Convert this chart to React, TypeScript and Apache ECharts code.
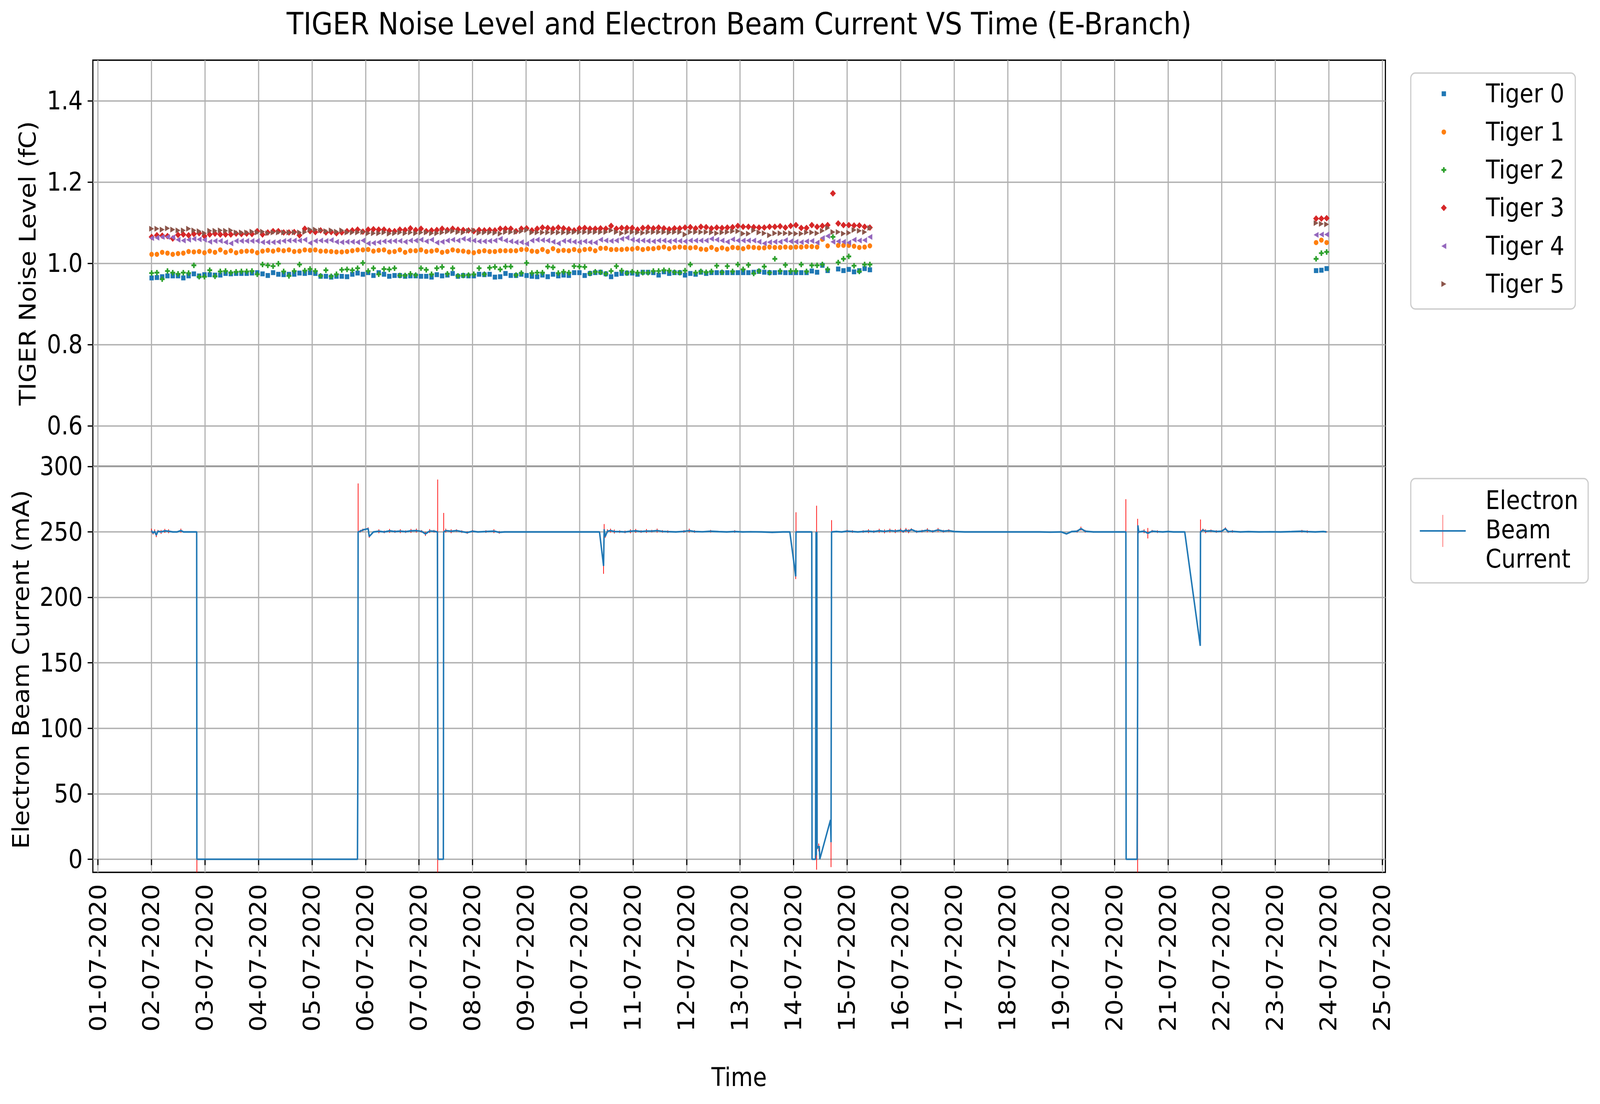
import React, { useEffect, useRef } from "react";
import * as echarts from "echarts";

const FONT = '"DejaVu Sans", "Liberation Sans", sans-serif';
const DAY_MS = 86400000;
const JULY_1 = Date.UTC(2020, 6, 1);
const DESIGN_W = 4600;
const DESIGN_H = 2826;

// ---- axis ticks ----
const dateTickLabels = [
  "01-07-2020", "02-07-2020", "03-07-2020", "04-07-2020", "05-07-2020",
  "06-07-2020", "07-07-2020", "08-07-2020", "09-07-2020", "10-07-2020",
  "11-07-2020", "12-07-2020", "13-07-2020", "14-07-2020", "15-07-2020",
  "16-07-2020", "17-07-2020", "18-07-2020", "19-07-2020", "20-07-2020",
  "21-07-2020", "22-07-2020", "23-07-2020", "24-07-2020", "25-07-2020",
];
const noiseTickValues = [0.6, 0.8, 1.0, 1.2, 1.4];
const noiseTickLabels = ["0.6", "0.8", "1.0", "1.2", "1.4"];
const currentTickValues = [0, 50, 100, 150, 200, 250, 300];

// ---- noise series (fC), sampled every ~2.37 h from 02-07 00:04 ----
const tigerNames = ["Tiger 0", "Tiger 1", "Tiger 2", "Tiger 3", "Tiger 4", "Tiger 5"];
const tigerColors = ["#1f77b4", "#ff7f0e", "#2ca02c", "#d62728", "#9467bd", "#8c564b"];
const mainStartDay = 1.003;
const lateStartDay = 22.765;
const sampleStepDay = 0.0987;

const tiger0Main = [
  0.964, 0.965, 0.967, 0.969, 0.969, 0.969, 0.964, 0.969, 0.974, 0.969,
  0.972, 0.972, 0.971, 0.971, 0.975, 0.974, 0.975, 0.975, 0.975, 0.976,
  0.977, 0.974, 0.970, 0.977, 0.973, 0.972, 0.973, 0.973, 0.976, 0.975,
  0.977, 0.975, 0.968, 0.968, 0.966, 0.968, 0.968, 0.967, 0.973, 0.976,
  0.973, 0.977, 0.970, 0.977, 0.973,
  0.968, 0.970, 0.970, 0.968, 0.969, 0.969, 0.968, 0.968, 0.966, 0.972,
  0.969, 0.971, 0.975, 0.968, 0.970, 0.969, 0.969, 0.973, 0.972, 0.973,
  0.966, 0.967, 0.975, 0.970, 0.970, 0.973, 0.970, 0.968, 0.967, 0.971,
  0.967, 0.973, 0.969, 0.971, 0.970, 0.977, 0.977, 0.970, 0.975, 0.977,
  0.978, 0.974, 0.967, 0.973, 0.975, 0.976,
  0.976, 0.973, 0.978, 0.978, 0.977, 0.971, 0.979, 0.975, 0.977, 0.977,
  0.971, 0.975, 0.973, 0.978, 0.975, 0.977, 0.977, 0.977, 0.977, 0.977,
  0.977, 0.977, 0.977, 0.978, 0.980, 0.978, 0.977, 0.977, 0.978, 0.977,
  0.977, 0.977, 0.977, 0.977, 0.981, 0.978, 0.995, 0.982, null, 0.986,
  0.982, 0.985, 0.979, 0.982, 0.987, 0.984,
];
const tiger1Main = [
  1.022, 1.022, 1.027, 1.025, 1.022, 1.024, 1.025, 1.029, 1.028, 1.029,
  1.026, 1.030, 1.027, 1.033, 1.027, 1.031, 1.026, 1.029, 1.030, 1.030,
  1.026, 1.030, 1.032, 1.030, 1.033, 1.031, 1.033, 1.029, 1.030, 1.033,
  1.032, 1.033, 1.030, 1.030, 1.029, 1.028, 1.028, 1.029, 1.031, 1.033,
  1.033, 1.034, 1.030, 1.032, 1.033,
  1.028, 1.029, 1.033, 1.027, 1.031, 1.031, 1.033, 1.029, 1.030, 1.032,
  1.027, 1.029, 1.033, 1.031, 1.030, 1.028, 1.026, 1.029, 1.031, 1.029,
  1.029, 1.031, 1.031, 1.031, 1.031, 1.034, 1.034, 1.030, 1.029, 1.034,
  1.029, 1.036, 1.031, 1.032, 1.031, 1.034, 1.031, 1.034, 1.035, 1.031,
  1.037, 1.037, 1.034, 1.034, 1.034, 1.035,
  1.035, 1.037, 1.034, 1.036, 1.036, 1.038, 1.040, 1.036, 1.039, 1.040,
  1.039, 1.038, 1.039, 1.035, 1.034, 1.039, 1.034, 1.038, 1.035, 1.039,
  1.038, 1.036, 1.040, 1.039, 1.038, 1.038, 1.040, 1.039, 1.039, 1.040,
  1.039, 1.040, 1.040, 1.041, 1.041, 1.040, 1.059, 1.043, null, 1.044,
  1.044, 1.044, 1.042, 1.039, 1.040, 1.043,
];
const tiger2Main = [
  0.976, 0.977, 0.961, 0.981, 0.977, 0.974, 0.977, 0.976, 0.995, 0.967,
  0.967, 0.983, 0.968, 0.980, 0.981, 0.977, 0.979, 0.980, 0.980, 0.981,
  0.973, 0.997, 0.995, 0.993, 0.999, 0.980, 0.969, 0.981, 0.997, 0.982,
  0.986, 0.981, 0.969, 0.983, 0.968, 0.973, 0.984, 0.985, 0.983, 0.988,
  1.001, 0.981, 0.988, 0.973, 0.986,
  0.985, 0.988, 0.970, 0.970, 0.974, 0.971, 0.988, 0.984, 0.973, 0.988,
  0.991, 0.974, 0.988, 0.969, 0.970, 0.971, 0.973, 0.988, 0.973, 0.989,
  0.991, 0.985, 0.992, 0.992, 0.971, 0.976, 1.001, 0.976, 0.977, 0.977,
  0.992, 0.990, 0.976, 0.979, 0.977, 0.993, 0.992, 0.991, 0.975, 0.979,
  0.978, 0.974, 0.981, 0.993, 0.982, 0.976,
  0.979, 0.977, 0.977, 0.977, 0.981, 0.981, 0.983, 0.982, 0.978, 0.977,
  0.982, 0.997, 0.977, 0.980, 0.978, 0.980, 0.994, 0.978, 0.993, 0.980,
  0.997, 0.985, 0.996, 0.975, 0.981, 0.992, 0.977, 1.011, 0.981, 0.996,
  0.981, 0.981, 0.997, 0.980, 0.995, 0.995, 0.997, 0.985, 1.065, 1.002,
  1.011, 1.017, 0.994, 0.980, 0.997, 0.997,
];
const tiger3Main = [
  1.065, 1.069, 1.068, 1.067, 1.061, 1.070, 1.071, 1.069, 1.072, 1.074,
  1.067, 1.071, 1.073, 1.071, 1.071, 1.071, 1.073, 1.072, 1.073, 1.072,
  1.079, 1.071, 1.076, 1.079, 1.079, 1.076, 1.076, 1.077, 1.069, 1.085,
  1.079, 1.077, 1.081, 1.076, 1.077, 1.074, 1.076, 1.079, 1.081, 1.083,
  1.078, 1.083, 1.084, 1.083, 1.083,
  1.080, 1.079, 1.083, 1.082, 1.086, 1.082, 1.085, 1.079, 1.081, 1.082,
  1.085, 1.082, 1.085, 1.083, 1.082, 1.081, 1.079, 1.082, 1.081, 1.082,
  1.081, 1.085, 1.085, 1.085, 1.079, 1.085, 1.086, 1.081, 1.085, 1.088,
  1.087, 1.085, 1.088, 1.086, 1.084, 1.081, 1.086, 1.087, 1.085, 1.085,
  1.086, 1.085, 1.092, 1.085, 1.087, 1.087,
  1.087, 1.083, 1.087, 1.088, 1.086, 1.088, 1.086, 1.084, 1.086, 1.086,
  1.088, 1.089, 1.086, 1.090, 1.089, 1.086, 1.088, 1.087, 1.088, 1.089,
  1.092, 1.090, 1.090, 1.089, 1.088, 1.088, 1.090, 1.090, 1.091, 1.088,
  1.092, 1.094, 1.087, 1.087, 1.094, 1.090, 1.092, 1.094, 1.172, 1.098,
  1.094, 1.094, 1.093, 1.093, 1.090, 1.088,
];
const tiger4Main = [
  1.062, 1.063, 1.065, 1.065, 1.064, 1.058, 1.056, 1.058, 1.060, 1.059,
  1.058, 1.053, 1.055, 1.055, 1.052, 1.049, 1.055, 1.055, 1.055, 1.055,
  1.055, 1.052, 1.052, 1.052, 1.053, 1.055, 1.056, 1.056, 1.056, 1.058,
  1.050, 1.055, 1.056, 1.055, 1.057, 1.053, 1.052, 1.053, 1.053, 1.052,
  1.056, 1.049, 1.050, 1.052, 1.054,
  1.054, 1.055, 1.055, 1.053, 1.056, 1.056, 1.058, 1.054, 1.058, 1.051,
  1.053, 1.056, 1.058, 1.056, 1.060, 1.058, 1.056, 1.054, 1.054, 1.055,
  1.056, 1.060, 1.056, 1.054, 1.052, 1.052, 1.048, 1.056, 1.058, 1.057,
  1.056, 1.053, 1.049, 1.055, 1.055, 1.053, 1.052, 1.054, 1.052, 1.051,
  1.058, 1.056, 1.055, 1.056, 1.060, 1.063,
  1.058, 1.056, 1.056, 1.055, 1.054, 1.056, 1.056, 1.054, 1.056, 1.055,
  1.054, 1.056, 1.056, 1.056, 1.056, 1.060, 1.058, 1.056, 1.053, 1.059,
  1.056, 1.056, 1.056, 1.056, 1.053, 1.049, 1.052, 1.053, 1.053, 1.057,
  1.054, 1.053, 1.052, 1.054, 1.055, 1.051, 1.062, 1.067, 1.053, 1.054,
  1.053, 1.051, 1.058, 1.056, 1.057, 1.065,
];
const tiger5Main = [
  1.085, 1.085, 1.083, 1.086, 1.083, 1.081, 1.081, 1.085, 1.081, 1.079,
  1.074, 1.080, 1.080, 1.081, 1.080, 1.081, 1.076, 1.076, 1.076, 1.078,
  1.076, 1.078, 1.074, 1.076, 1.076, 1.076, 1.076, 1.076, 1.076, 1.077,
  1.083, 1.083, 1.081, 1.079, 1.081, 1.078, 1.081, 1.076, 1.076, 1.076,
  1.077, 1.074, 1.074, 1.074, 1.076,
  1.073, 1.074, 1.076, 1.074, 1.076, 1.074, 1.076, 1.076, 1.074, 1.074,
  1.076, 1.078, 1.079, 1.077, 1.076, 1.080, 1.081, 1.075, 1.076, 1.076,
  1.075, 1.073, 1.077, 1.077, 1.077, 1.079, 1.082, 1.076, 1.076, 1.076,
  1.076, 1.076, 1.076, 1.076, 1.076, 1.077, 1.077, 1.077, 1.077, 1.077,
  1.077, 1.077, 1.081, 1.077, 1.074, 1.077,
  1.077, 1.076, 1.075, 1.077, 1.077, 1.077, 1.077, 1.076, 1.077, 1.077,
  1.071, 1.077, 1.077, 1.077, 1.077, 1.076, 1.074, 1.076, 1.077, 1.079,
  1.079, 1.073, 1.073, 1.081, 1.076, 1.074, 1.069, 1.074, 1.074, 1.074,
  1.074, 1.073, 1.073, 1.076, 1.076, 1.074, 1.080, 1.087, 1.077, 1.077,
  1.073, 1.075, 1.082, 1.080, 1.077, 1.087,
];
const tiger0Late = [0.982, 0.983, 0.987];
const tiger1Late = [1.051, 1.057, 1.051];
const tiger2Late = [1.011, 1.025, 1.028];
const tiger3Late = [1.110, 1.110, 1.111];
const tiger4Late = [1.070, 1.071, 1.071];
const tiger5Late = [1.099, 1.097, 1.096];

const tigerMain = [tiger0Main, tiger1Main, tiger2Main, tiger3Main, tiger4Main, tiger5Main];
const tigerLate = [tiger0Late, tiger1Late, tiger2Late, tiger3Late, tiger4Late, tiger5Late];

// ---- electron beam current: [day since 01-07, mA, std error mA] ----
const beamReadings: [number, number, number][] = [
  [1.00, 251.0, 1.5], [1.03, 249.0, 1.0], [1.06, 250.5, 1.5], [1.09, 247.5, 1.5], [1.12, 250.5, 1.0],
  [1.18, 250.0, 1.5], [1.25, 250.8, 1.5], [1.32, 250.5, 1.5], [1.40, 250.0, 0.5], [1.48, 250.0, 0.5],
  [1.55, 251.0, 1.5], [1.60, 250.0, 0.5], [1.70, 250.0, 0.3], [1.80, 250.0, 0.3], [1.845, 250.0, 0.3],
  [1.849, 0.0, 10.0], [2.5, 0.0, 0.0], [3.5, 0.0, 0.0], [4.5, 0.0, 0.0], [4.850, 0.0, 0.0],
  [4.857, 73.0, 0.0], [4.862, 250.0, 37.0], [4.90, 250.5, 1.0], [4.95, 251.5, 1.0], [5.05, 252.5, 1.0],
  [5.07, 246.5, 1.0], [5.15, 250.0, 0.5], [5.25, 250.5, 1.5], [5.35, 250.0, 1.0], [5.45, 250.8, 1.5],
  [5.55, 250.3, 1.0], [5.65, 250.6, 1.5], [5.75, 250.2, 1.0], [5.85, 250.8, 1.5], [5.95, 251.0, 1.5],
  [6.05, 250.4, 1.0], [6.12, 248.5, 1.5], [6.20, 250.7, 1.5], [6.28, 250.5, 1.0], [6.344, 250.0, 1.0],
  [6.349, 140.0, 150.0], [6.355, 0.0, 0.0], [6.455, 0.0, 0.0], [6.461, 250.0, 14.5], [6.50, 251.0, 1.5],
  [6.60, 250.5, 1.5], [6.70, 251.0, 1.0], [6.80, 250.2, 1.0], [6.90, 249.5, 1.0], [7.00, 250.5, 1.0],
  [7.10, 250.0, 0.5], [7.25, 250.3, 1.0], [7.40, 250.6, 1.5], [7.50, 249.7, 1.0], [7.60, 250.0, 0.5],
  [7.80, 250.0, 0.3], [8.00, 250.0, 0.3], [8.20, 250.0, 0.3], [8.40, 250.0, 0.3], [8.60, 250.0, 0.3],
  [8.80, 250.0, 0.3], [9.00, 250.0, 0.5], [9.20, 250.0, 0.3], [9.373, 250.0, 0.3], [9.449, 224.0, 6.0],
  [9.46, 252.0, 4.0], [9.48, 246.5, 1.0], [9.52, 250.5, 1.5], [9.58, 251.0, 1.5], [9.65, 250.3, 1.5],
  [9.75, 250.2, 1.0], [9.85, 250.0, 1.0], [9.95, 250.5, 1.5], [10.05, 250.8, 1.5], [10.15, 250.3, 1.0],
  [10.25, 250.7, 1.5], [10.35, 250.6, 1.0], [10.45, 251.0, 1.5], [10.55, 250.4, 1.0], [10.65, 250.2, 1.0],
  [10.80, 250.0, 0.5], [10.95, 250.4, 1.0], [11.05, 251.0, 1.5], [11.15, 250.3, 1.0], [11.30, 250.1, 0.5],
  [11.45, 250.5, 1.0], [11.60, 250.2, 0.5], [11.75, 250.0, 0.5], [11.90, 250.3, 1.0], [12.05, 250.0, 0.5],
  [12.20, 250.1, 0.5], [12.40, 250.0, 0.3], [12.60, 249.7, 0.5], [12.80, 250.0, 0.3], [12.93, 250.0, 0.3],
  [13.04, 216.0, 2.0], [13.045, 250.0, 15.0], [13.15, 250.0, 0.3], [13.25, 250.0, 0.3], [13.340, 250.0, 0.3],
  [13.345, 0.0, 0.0], [13.41, 0.0, 0.0], [13.42, 250.0, 0.0], [13.425, 3.0, 0.0], [13.43, 131.0, 139.0],
  [13.435, 250.0, 0.0], [13.44, 8.0, 0.0], [13.46, 10.0, 0.0], [13.47, 9.0, 3.0], [13.48, 10.0, 0.0],
  [13.49, 0.0, 0.0], [13.69, 30.0, 0.0], [13.70, 13.0, 19.0], [13.71, 250.0, 9.0], [13.80, 250.3, 0.5],
  [13.90, 250.0, 0.5], [14.00, 250.6, 1.0], [14.10, 250.3, 1.0], [14.20, 250.0, 0.5], [14.30, 250.3, 1.0],
  [14.40, 250.6, 1.5], [14.50, 250.2, 1.0], [14.60, 250.9, 1.5], [14.70, 250.4, 1.5], [14.80, 251.0, 1.5],
  [14.90, 250.6, 1.5], [15.00, 251.2, 1.5], [15.05, 250.3, 1.0], [15.10, 251.5, 1.5], [15.15, 250.5, 1.5],
  [15.20, 251.8, 1.0], [15.30, 250.2, 1.0], [15.40, 250.6, 1.0], [15.50, 251.3, 1.5], [15.60, 250.4, 1.0],
  [15.70, 251.5, 1.5], [15.80, 250.5, 1.0], [15.90, 251.0, 1.0], [16.00, 250.3, 0.5], [16.20, 250.0, 0.3],
  [16.40, 250.0, 0.3], [16.60, 250.0, 0.3], [16.80, 250.0, 0.3], [17.00, 250.0, 0.3], [17.20, 250.0, 0.3],
  [17.40, 250.0, 0.3], [17.60, 250.0, 0.3], [17.80, 249.8, 0.5], [18.00, 250.0, 0.3], [18.10, 248.5, 0.5],
  [18.20, 250.3, 0.5], [18.30, 250.5, 1.0], [18.37, 252.5, 1.5], [18.45, 250.5, 1.0], [18.60, 250.0, 0.5],
  [18.80, 250.0, 0.3], [19.00, 250.0, 0.3], [19.210, 250.0, 25.0], [19.215, 0.0, 0.0], [19.42, 0.0, 0.0],
  [19.43, 125.0, 135.0], [19.435, 255.0, 0.0], [19.45, 250.0, 1.0], [19.55, 250.5, 1.5], [19.62, 249.0, 4.0],
  [19.70, 250.5, 1.0], [19.80, 250.2, 1.0], [19.90, 250.0, 0.5], [20.00, 250.3, 0.5], [20.10, 250.0, 0.3],
  [20.20, 250.0, 0.3], [20.31, 250.0, 0.3], [20.60, 163.0, 0.0], [20.605, 250.0, 9.5], [20.65, 251.5, 1.0],
  [20.70, 250.5, 1.5], [20.80, 250.8, 1.0], [20.90, 250.3, 1.0], [21.00, 250.5, 1.0], [21.07, 252.5, 1.0],
  [21.12, 250.2, 1.0], [21.20, 250.4, 1.0], [21.35, 250.0, 0.5], [21.50, 250.2, 0.5], [21.70, 250.0, 0.3],
  [21.90, 250.1, 0.5], [22.10, 250.0, 0.3], [22.30, 250.2, 0.5], [22.50, 250.5, 1.0], [22.60, 250.2, 1.0],
  [22.75, 250.0, 0.5], [22.90, 250.3, 0.5], [22.96, 250.0, 0.3],
];

const xMinDay = -0.095;
const xMaxDay = 24.06;

const dayToMs = (d: number) => JULY_1 + d * DAY_MS;
const dateTickValues = dateTickLabels.map((_, k) => dayToMs(k));

function tigerPoints(main: (number | null)[], late: number[]) {
  const pts: number[][] = [];
  main.forEach((v, i) => {
    if (v != null) pts.push([dayToMs(mainStartDay + i * sampleStepDay), v]);
  });
  late.forEach((v, i) => pts.push([dayToMs(lateStartDay + i * sampleStepDay), v]));
  return pts;
}

const tigerSymbols: any[] = [
  "rect",
  "circle",
  "path://M2,0H4V2H6V4H4V6H2V4H0V2H2Z",
  "diamond",
  "path://M0,5L10,0L10,10Z",
  "path://M10,5L0,0L0,10Z",
];
const tigerSymbolSizes: any[] = [12.5, 13, 14, 17, [14, 15], [14, 15]];

function buildOption() {
  const textBase = { fontFamily: FONT, color: "#000" };
  const gridCommon = {
    left: 267,
    width: 3716,
    containLabel: false,
    outerBoundsMode: "none",
    show: true,
    borderColor: "#000",
    borderWidth: 3.3,
    backgroundColor: "rgba(0,0,0,0)",
  };
  const dateFormatter = (v: number) => {
    const k = Math.round((v - JULY_1) / DAY_MS);
    return dateTickLabels[k] ?? "";
  };
  const xAxisFor = (gridIndex: number, showLabels: boolean) => ({
    type: "value",
    gridIndex,
    min: dayToMs(xMinDay),
    max: dayToMs(xMaxDay),
    axisLine: { show: false },
    axisTick: {
      show: showLabels,
      customValues: dateTickValues,
      length: 15,
      inside: false,
      lineStyle: { color: "#000", width: 3.3 },
    },
    axisLabel: {
      show: showLabels,
      customValues: dateTickValues,
      rotate: 90,
      margin: 30,
      fontSize: 65,
      ...textBase,
      formatter: dateFormatter,
    },
    splitLine: { show: true, lineStyle: { color: "#b0b0b0", width: 3.3 } },
    name: showLabels ? "Time" : "",
    nameLocation: "middle",
    nameGap: 492,
    nameTextStyle: { fontSize: 65, ...textBase },
  });

  const series: any[] = tigerNames.map((name, s) => ({
    name,
    type: "scatter",
    xAxisIndex: 0,
    yAxisIndex: 0,
    symbol: tigerSymbols[s],
    symbolSize: tigerSymbolSizes[s],
    itemStyle: { color: tigerColors[s], opacity: 1 },
    data: tigerPoints(tigerMain[s], tigerLate[s]),
    z: 2 + s * 0.01,
  }));

  series.push({
    name: "Electron Beam Current error",
    type: "custom",
    xAxisIndex: 1,
    yAxisIndex: 1,
    clip: true,
    encode: { x: 0, y: 1 },
    data: beamReadings.filter((r) => r[2] > 0).map((r) => [dayToMs(r[0]), r[1], r[2]]),
    renderItem: (_params: any, api: any) => {
      const x = api.value(0);
      const v = api.value(1);
      const e = api.value(2);
      const p1 = api.coord([x, v - e]);
      const p2 = api.coord([x, v + e]);
      return {
        type: "line",
        shape: { x1: p1[0], y1: p1[1], x2: p2[0], y2: p2[1] },
        style: { stroke: "#ff0000", lineWidth: 2 },
      };
    },
    z: 2,
  });
  series.push({
    name: "Electron Beam Current",
    type: "line",
    xAxisIndex: 1,
    yAxisIndex: 1,
    showSymbol: false,
    symbol: "none",
    clip: true,
    lineStyle: { color: "#1f77b4", width: 4.2 },
    itemStyle: { color: "#1f77b4" },
    data: beamReadings.map((r) => [dayToMs(r[0]), r[1]]),
    z: 3,
  });

  // legends drawn as graphics
  const legendRows = [240, 338, 435, 532, 630, 727];
  const mx = 4151;
  const graphics: any[] = [
    {
      type: "rect",
      shape: { x: 4056, y: 187, width: 473, height: 604, r: 13 },
      style: { fill: "rgba(255,255,255,0.8)", stroke: "#cccccc", lineWidth: 3.3 },
      z: 10,
    },
  ];
  legendRows.forEach((cy, s) => {
    const fill = tigerColors[s];
    let shape: any;
    if (s === 0) shape = { type: "rect", shape: { x: mx - 6.25, y: cy - 6.25, width: 12.5, height: 12.5 }, style: { fill } };
    else if (s === 1) shape = { type: "circle", shape: { cx: mx, cy, r: 6.5 }, style: { fill } };
    else if (s === 2) {
      const a = 7, b = 2.4;
      shape = {
        type: "polygon",
        shape: {
          points: [
            [mx - b, cy - a], [mx + b, cy - a], [mx + b, cy - b], [mx + a, cy - b], [mx + a, cy + b], [mx + b, cy + b],
            [mx + b, cy + a], [mx - b, cy + a], [mx - b, cy + b], [mx - a, cy + b], [mx - a, cy - b], [mx - b, cy - b],
          ],
        },
        style: { fill },
      };
    } else if (s === 3)
      shape = { type: "polygon", shape: { points: [[mx, cy - 8.5], [mx + 8.5, cy], [mx, cy + 8.5], [mx - 8.5, cy]] }, style: { fill } };
    else if (s === 4)
      shape = { type: "polygon", shape: { points: [[mx - 7, cy], [mx + 7, cy - 7.5], [mx + 7, cy + 7.5]] }, style: { fill } };
    else shape = { type: "polygon", shape: { points: [[mx + 7, cy], [mx - 7, cy - 7.5], [mx - 7, cy + 7.5]] }, style: { fill } };
    shape.z = 11;
    graphics.push(shape);
    graphics.push({
      type: "text",
      x: 4272,
      y: cy,
      z: 11,
      style: {
        text: tigerNames[s],
        font: `65px ${FONT}`,
        fill: "#000",
        align: "left",
        verticalAlign: "middle",
        textAlign: "left",
        textVerticalAlign: "middle",
      },
    });
  });
  graphics.push({
    type: "rect",
    shape: { x: 4056, y: 1225, width: 510, height: 267, r: 13 },
    style: { fill: "rgba(255,255,255,0.8)", stroke: "#cccccc", lineWidth: 3.3 },
    z: 10,
  });
  graphics.push({
    type: "line",
    shape: { x1: 4148, y1: 1318, x2: 4148, y2: 1400 },
    style: { stroke: "#ff0000", lineWidth: 2, opacity: 0.6 },
    z: 11,
  });
  graphics.push({
    type: "line",
    shape: { x1: 4082, y1: 1359, x2: 4214, y2: 1359 },
    style: { stroke: "#1f77b4", lineWidth: 4.2 },
    z: 12,
  });
  ["Electron", "Beam", "Current"].forEach((t, k) => {
    graphics.push({
      type: "text",
      x: 4271,
      y: 1281 + k * 75,
      z: 12,
      style: {
        text: t,
        font: `65px ${FONT}`,
        fill: "#000",
        align: "left",
        verticalAlign: "middle",
        textAlign: "left",
        textVerticalAlign: "middle",
      },
    });
  });

  return {
    animation: false,
    backgroundColor: "#ffffff",
    textStyle: { fontFamily: FONT },
    title: {
      text: "TIGER Noise Level and Electron Beam Current VS Time (E-Branch)",
      left: 2125,
      top: 22,
      textAlign: "center",
      padding: 0,
      textStyle: { fontSize: 79, fontWeight: "normal", ...textBase },
    },
    grid: [
      { ...gridCommon, top: 154, height: 1040 },
      { ...gridCommon, top: 1194, height: 1039 },
    ],
    xAxis: [xAxisFor(0, false), xAxisFor(1, true)],
    yAxis: [
      {
        type: "value",
        gridIndex: 0,
        min: 0.5,
        max: 1.5,
        axisLine: { show: false },
        axisTick: { show: true, customValues: noiseTickValues, length: 15, lineStyle: { color: "#000", width: 3.3 } },
        axisLabel: {
          customValues: noiseTickValues,
          margin: 29,
          fontSize: 65,
          ...textBase,
          formatter: (v: number) => noiseTickLabels[noiseTickValues.findIndex((t) => Math.abs(t - v) < 1e-6)] ?? "",
        },
        splitLine: { show: true, lineStyle: { color: "#b0b0b0", width: 3.3 } },
        name: "TIGER Noise Level (fC)",
        nameLocation: "middle",
        nameRotate: 90,
        nameGap: 154,
        nameTextStyle: { fontSize: 65, ...textBase },
      },
      {
        type: "value",
        gridIndex: 1,
        min: -10,
        max: 300,
        axisLine: { show: false },
        axisTick: { show: true, customValues: currentTickValues, length: 15, lineStyle: { color: "#000", width: 3.3 } },
        axisLabel: {
          customValues: currentTickValues,
          margin: 29,
          fontSize: 65,
          ...textBase,
          formatter: (v: number) => String(Math.round(v)),
        },
        splitLine: { show: true, lineStyle: { color: "#b0b0b0", width: 3.3 } },
        name: "Electron Beam Current (mA)",
        nameLocation: "middle",
        nameRotate: 90,
        nameGap: 174,
        nameTextStyle: { fontSize: 65, ...textBase },
      },
    ],
    series,
    graphic: { elements: graphics },
  };
}

export default function App() {
  const ref = useRef<HTMLDivElement>(null);
  const vw = typeof window !== "undefined" && window.innerWidth > 0 ? window.innerWidth : DESIGN_W;
  const vh = typeof window !== "undefined" && window.innerHeight > 0 ? window.innerHeight : DESIGN_H;
  // fit the 4600×2826 design to the page that is photographed
  const sx = vw / DESIGN_W;
  const sy = vh / DESIGN_H;

  useEffect(() => {
    document.documentElement.style.margin = "0";
    document.documentElement.style.overflow = "hidden";
    document.body.style.margin = "0";
    document.body.style.overflow = "hidden";
    if (!ref.current) return;
    const chart = echarts.init(ref.current, null, { renderer: "svg", width: DESIGN_W, height: DESIGN_H });
    chart.setOption(buildOption() as any);
    return () => chart.dispose();
  }, []);

  return (
    <div
      style={{
        width: vw,
        height: vh,
        overflow: "hidden",
        position: "relative",
        background: "#fff",
      }}
    >
      <div
        ref={ref}
        style={{
          width: DESIGN_W,
          height: DESIGN_H,
          transform: `scale(${sx}, ${sy})`,
          transformOrigin: "0 0",
          position: "absolute",
          left: 0,
          top: 0,
        }}
      />
    </div>
  );
}
